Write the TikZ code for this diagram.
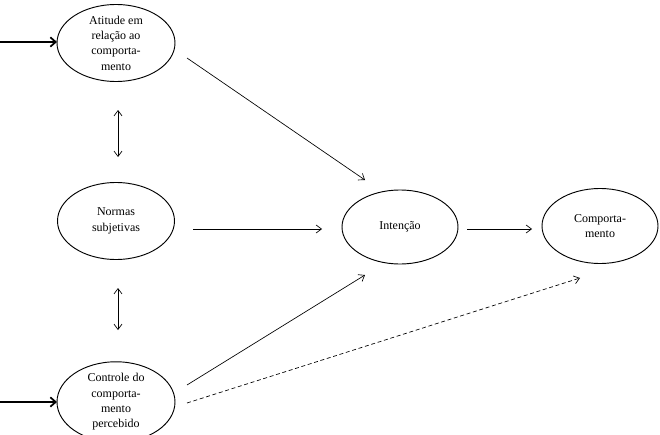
\documentclass[tikz,border=0pt]{standalone}
\usepackage{fontspec}
\setmainfont{Liberation Serif}
\usetikzlibrary{shapes.geometric,arrows.meta}
\begin{document}
\begin{tikzpicture}[x=0.75pt,y=-0.75pt,
  oval/.style={draw,ellipse,line width=0.7pt,inner sep=0pt,align=center,
    font=\fontsize{9}{11.5}\selectfont},
  arr/.style={line width=0.5pt,-{Straight Barb[length=4pt,width=6pt]}},
  darr/.style={line width=0.5pt,{Straight Barb[length=4pt,width=6pt]}-{Straight Barb[length=4pt,width=6pt]}},
  dasharr/.style={arr,dashed,dash pattern=on 3pt off 2pt},
  inarr/.style={line width=1.3pt,-{Straight Barb[length=4pt,width=7pt]}}]
\useasboundingbox (0,0) rectangle (660,435);
\node[oval,minimum width=118*0.75pt,minimum height=76*0.75pt] (at) at (116,43) {Atitude em\\relação ao\\comporta-\\mento};
\node[oval,minimum width=117*0.75pt,minimum height=77*0.75pt] (no) at (116,221) {Normas\\subjetivas};
\node[oval,minimum width=118*0.75pt,minimum height=70*0.75pt] (ct) at (116,402) {Controle do\\comporta-\\mento\\percebido};
\node[oval,minimum width=116*0.75pt,minimum height=74*0.75pt] (in) at (400,227) {Intenção};
\node[oval,minimum width=116*0.75pt,minimum height=75*0.75pt] (co) at (600,226) {Comporta-\\mento};
\coordinate (s1) at (0,42);
\coordinate (s2) at (0,402);
\draw[inarr] (s1) -- ([shift={(-59,-1)}]at.center);
\draw[inarr] (s2) -- ([shift={(-59,0)}]ct.center);
\draw[arr] ([shift={(71,15)}]at.center) -- ([shift={(-35,-47)}]in.center);
\draw[arr] ([shift={(77,8)}]no.center) -- ([shift={(-78,2)}]in.center);
\draw[arr] ([shift={(71,-17)}]ct.center) -- ([shift={(-35,48)}]in.center);
\draw[dasharr] ([shift={(71,1)}]ct.center) -- ([shift={(-20,52)}]co.center);
\draw[arr] ([shift={(67,2)}]in.center) -- ([shift={(-68,3)}]co.center);
\draw[darr] ([shift={(2,67)}]at.center) -- ([shift={(2,-64)}]no.center);
\draw[darr] ([shift={(2,67)}]no.center) -- ([shift={(2,-72)}]ct.center);
\end{tikzpicture}
\end{document}
